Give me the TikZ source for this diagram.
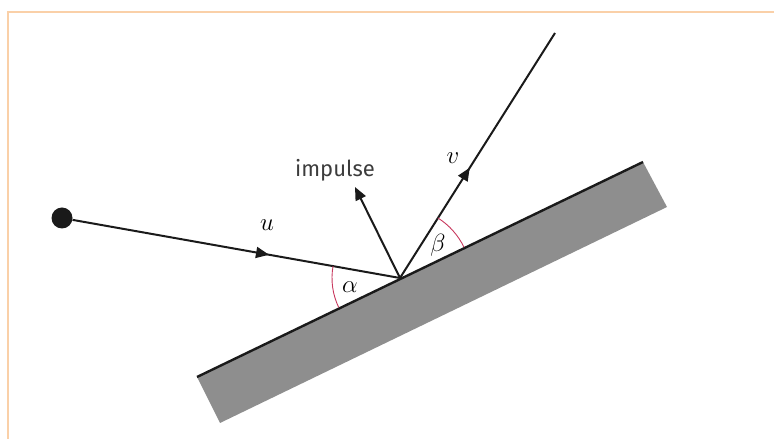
\documentclass[tikz,border=0pt]{standalone}
\usepackage{fontspec}
\usetikzlibrary{arrows.meta,decorations.markings}
\newfontfamily\impfont{Fira Sans}
\definecolor{refink}{HTML}{1A1A1A}
\definecolor{refgrey}{HTML}{8E8E8E}
\definecolor{refred}{HTML}{C8395E}
\definecolor{refpeach}{HTML}{FAD0A8}
\tikzset{
  ln/.style={line width=2pt, color=refink},
  arr/.style={ln, -{Triangle[length=13pt, width=11pt]}},
  midarr/.style={ln, postaction={decorate}, decoration={markings, mark=at position #1 with {\arrow{Triangle[length=13pt, width=11pt]}}}},
  ang/.style={line width=0.9pt, color=refred},
  sym/.style={font=\fontsize{23}{26}\selectfont, inner sep=1pt},
  lbl/.style={font=\impfont\fontsize{22}{24}\selectfont, color=refink!85, inner sep=1pt},
  mass/.style={circle, fill=refink, minimum size=21pt, inner sep=0pt},
}
\begin{document}
\begin{tikzpicture}[x=1pt, y=1pt]
  \useasboundingbox (0,0) rectangle (774,439);
  \draw[refpeach, line width=2pt] (7.5,0) -- (7.5,427) -- (774,427);
  % plate
  \fill[refgrey] (197,62) -- (643,277) -- (667,232) -- (220,16) -- cycle;
  \coordinate (pl) at (197,62);
  \coordinate (pr) at (643,277);
  \draw[ln, line width=2.4pt] (pl) -- (pr);
  % paths
  \coordinate (O) at (400,161);
  \coordinate (vend) at (555,406);
  \coordinate (imp) at (355,252);
  \node[mass] (ball) at (62,221) {};
  \draw[midarr=0.6] (ball) -- (O);
  \draw[midarr=0.45] (O) -- (vend);
  \draw[arr] (O) -- (imp);
  % angles
  \draw[ang] (O) ++(169.9:68) arc[start angle=169.9, end angle=205.7, radius=68];
  \draw[ang] (O) ++(25.7:71) arc[start angle=25.7, end angle=57.7, radius=71];
  \node[sym] (u) at (267,214) {$u$};
  \node[sym] (v) at (453,281) {$v$};
  \node[sym] (al) at (350,152) {$\alpha$};
  \node[sym] (be) at (438,194) {$\beta$};
  \node[lbl] (imptxt) at (335,269) {impulse};
\end{tikzpicture}
\end{document}
